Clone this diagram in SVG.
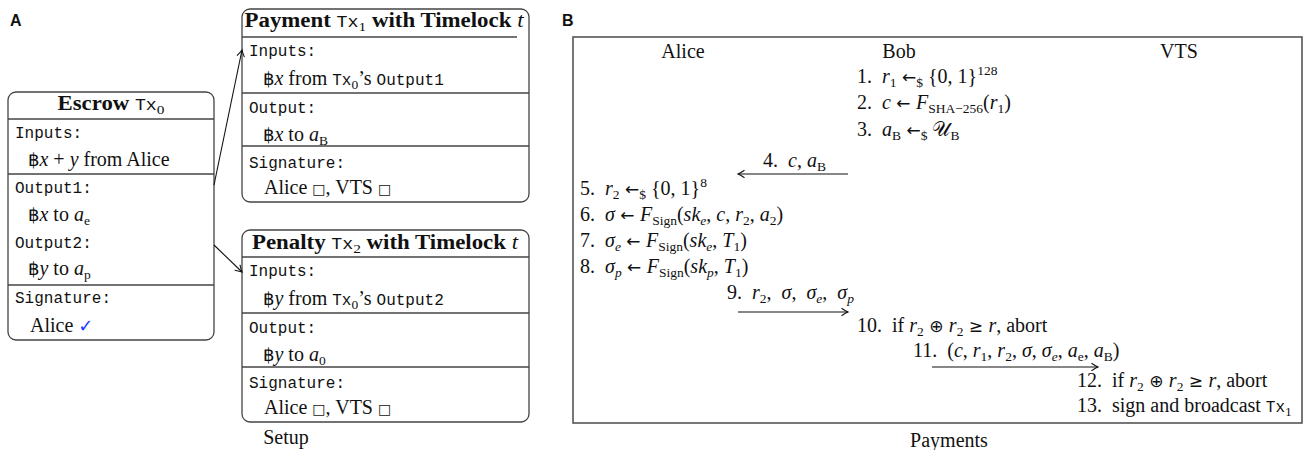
<svg xmlns="http://www.w3.org/2000/svg" width="1307" height="450" viewBox="0 0 1307 450">
<style>
text{font-family:"Liberation Serif","DejaVu Serif",serif;font-size:20px;fill:#111}
.m{font-family:"Liberation Mono","DejaVu Sans Mono",monospace;font-size:16px}
.i{font-style:italic}
.s{font-size:13.5px}
.b{font-weight:bold}
.ar{font-family:"DejaVu Sans","Noto Sans",sans-serif;font-size:17px}
.bt{font-family:"DejaVu Sans","Noto Sans",sans-serif;font-size:18px}
.sq{font-family:"DejaVu Sans","Noto Sans",sans-serif;font-size:14px}
.ck{font-family:"DejaVu Sans","Noto Sans",sans-serif;fill:#1a3cff;font-size:18px}
.lbl{font-family:"Liberation Sans",Arial,sans-serif;font-weight:bold;font-size:16px}
.box{fill:#fff;stroke:#444;stroke-width:1.3}
.div{stroke:#444;stroke-width:1.3}
.frame{fill:none;stroke:#555;stroke-width:1.6}
.arr{stroke:#111;stroke-width:1.1;fill:none;marker-end:url(#ah)}
</style>
<defs>
<marker id="ah" markerUnits="userSpaceOnUse" markerWidth="12" markerHeight="12" viewBox="-8 -6 10 12" refX="0" refY="0" orient="auto">
<path d="M-6.5,-3.8 Q-2,-0.8 0,0 Q-2,0.8 -6.5,3.8" fill="none" stroke="#111" stroke-width="1.1"/>
</marker>
</defs>

<text class="lbl" x="10" y="26">A</text>
<text class="lbl" x="562" y="26">B</text>

<g id="escrow">
<rect class="box" x="8" y="92" width="206" height="248" rx="8"/>
<line class="div" x1="8" y1="119" x2="214" y2="119"/>
<line class="div" x1="8" y1="174" x2="214" y2="174"/>
<line class="div" x1="8" y1="285" x2="214" y2="285"/>
<text x="111" y="110" text-anchor="middle" textLength="107" lengthAdjust="spacingAndGlyphs"><tspan class="b">Escrow </tspan><tspan class="m">Tx</tspan><tspan class="s" dy="4">0</tspan></text>
<text class="m" x="15" y="138">Inputs:</text>
<text x="28" y="166"><tspan class="bt">฿</tspan><tspan class="i">x</tspan>&#160;+&#160;<tspan class="i">y</tspan> from Alice</text>
<text class="m" x="15" y="193">Output1:</text>
<text x="28" y="221"><tspan class="bt">฿</tspan><tspan class="i">x</tspan> to <tspan class="i">a</tspan><tspan class="s" dy="4">e</tspan></text>
<text class="m" x="15" y="248">Output2:</text>
<text x="28" y="275"><tspan class="bt">฿</tspan><tspan class="i">y</tspan> to <tspan class="i">a</tspan><tspan class="s" dy="4">p</tspan></text>
<text class="m" x="15" y="303">Signature:</text>
<text x="30" y="332">Alice <tspan class="ck">✓</tspan></text>
</g>

<g id="payment">
<rect class="box" x="242" y="9" width="287" height="193" rx="8"/>
<line class="div" x1="242" y1="37" x2="517" y2="37"/>
<line class="div" x1="242" y1="93" x2="529" y2="93"/>
<line class="div" x1="242" y1="146" x2="529" y2="146"/>
<text x="384" y="27" text-anchor="middle" textLength="279" lengthAdjust="spacingAndGlyphs"><tspan class="b">Payment </tspan><tspan class="m">Tx</tspan><tspan class="s" dy="4">1</tspan><tspan class="b" dy="-4"> with Timelock </tspan><tspan class="i">t</tspan></text>
<text class="m" x="249" y="56">Inputs:</text>
<text x="263" y="85"><tspan class="bt">฿</tspan><tspan class="i">x</tspan> from <tspan class="m">Tx</tspan><tspan class="s" dy="4">0</tspan><tspan dy="-4">’s </tspan><tspan class="m">Output1</tspan></text>
<text class="m" x="249" y="113">Output:</text>
<text x="263" y="141"><tspan class="bt">฿</tspan><tspan class="i">x</tspan> to <tspan class="i">a</tspan><tspan class="s" dy="4">B</tspan></text>
<text class="m" x="249" y="168">Signature:</text>
<text x="264" y="194">Alice <tspan class="sq">□</tspan>, VTS <tspan class="sq">□</tspan></text>
</g>

<g id="penalty">
<rect class="box" x="242" y="230" width="287" height="192" rx="8"/>
<line class="div" x1="242" y1="257" x2="529" y2="257"/>
<line class="div" x1="242" y1="313" x2="529" y2="313"/>
<line class="div" x1="242" y1="367" x2="529" y2="367"/>
<text x="385" y="249" text-anchor="middle" textLength="266" lengthAdjust="spacingAndGlyphs"><tspan class="b">Penalty </tspan><tspan class="m">Tx</tspan><tspan class="s" dy="4">2</tspan><tspan class="b" dy="-4"> with Timelock </tspan><tspan class="i">t</tspan></text>
<text class="m" x="249" y="276">Inputs:</text>
<text x="263" y="305"><tspan class="bt">฿</tspan><tspan class="i">y</tspan> from <tspan class="m">Tx</tspan><tspan class="s" dy="4">0</tspan><tspan dy="-4">’s </tspan><tspan class="m">Output2</tspan></text>
<text class="m" x="249" y="333">Output:</text>
<text x="263" y="361"><tspan class="bt">฿</tspan><tspan class="i">y</tspan> to <tspan class="i">a</tspan><tspan class="s" dy="4">0</tspan></text>
<text class="m" x="249" y="388">Signature:</text>
<text x="264" y="414">Alice <tspan class="sq">□</tspan>, VTS <tspan class="sq">□</tspan></text>
</g>

<text id="setup" x="286" y="444" text-anchor="middle">Setup</text>

<g id="payments">
<rect class="frame" x="573" y="37" width="729" height="386"/>
<text x="683" y="58" text-anchor="middle">Alice</text>
<text x="899" y="58" text-anchor="middle">Bob</text>
<text x="1179" y="58" text-anchor="middle">VTS</text>

<text x="857" y="83">1.&#160; <tspan class="i">r</tspan><tspan class="s" dy="4">1</tspan><tspan class="ar" dy="-4"> ←</tspan><tspan class="s" dy="4">$</tspan><tspan dy="-4"> {0, 1}</tspan><tspan class="s" dy="-8">128</tspan></text>
<text x="857" y="109">2.&#160; <tspan class="i">c</tspan><tspan class="ar"> ← </tspan><tspan class="i">F</tspan><tspan class="s" dy="4">SHA−256</tspan><tspan dy="-4">(</tspan><tspan class="i">r</tspan><tspan class="s" dy="4">1</tspan><tspan dy="-4">)</tspan></text>
<text x="857" y="136">3.&#160; <tspan class="i">a</tspan><tspan class="s" dy="4">B</tspan><tspan class="ar" dy="-4"> ←</tspan><tspan class="s" dy="4">$</tspan><tspan dy="-4"> 𝒰</tspan><tspan class="s" dy="4">B</tspan></text>
<text x="763" y="167">4.&#160; <tspan class="i">c</tspan>, <tspan class="i">a</tspan><tspan class="s" dy="4">B</tspan></text>

<text x="580" y="195">5.&#160; <tspan class="i">r</tspan><tspan class="s" dy="4">2</tspan><tspan class="ar" dy="-4"> ←</tspan><tspan class="s" dy="4">$</tspan><tspan dy="-4"> {0, 1}</tspan><tspan class="s" dy="-8">8</tspan></text>
<text x="580" y="221">6.&#160; <tspan class="i">σ</tspan><tspan class="ar"> ← </tspan><tspan class="i">F</tspan><tspan class="s" dy="4">Sign</tspan><tspan dy="-4">(</tspan><tspan class="i">sk</tspan><tspan class="s i" dy="4">e</tspan><tspan dy="-4">, </tspan><tspan class="i">c</tspan>, <tspan class="i">r</tspan><tspan class="s" dy="4">2</tspan><tspan dy="-4">, </tspan><tspan class="i">a</tspan><tspan class="s" dy="4">2</tspan><tspan dy="-4">)</tspan></text>
<text x="580" y="247">7.&#160; <tspan class="i">σ</tspan><tspan class="s i" dy="4">e</tspan><tspan class="ar" dy="-4"> ← </tspan><tspan class="i">F</tspan><tspan class="s" dy="4">Sign</tspan><tspan dy="-4">(</tspan><tspan class="i">sk</tspan><tspan class="s i" dy="4">e</tspan><tspan dy="-4">, </tspan><tspan class="i">T</tspan><tspan class="s" dy="4">1</tspan><tspan dy="-4">)</tspan></text>
<text x="580" y="273">8.&#160; <tspan class="i">σ</tspan><tspan class="s i" dy="4">p</tspan><tspan class="ar" dy="-4"> ← </tspan><tspan class="i">F</tspan><tspan class="s" dy="4">Sign</tspan><tspan dy="-4">(</tspan><tspan class="i">sk</tspan><tspan class="s i" dy="4">p</tspan><tspan dy="-4">, </tspan><tspan class="i">T</tspan><tspan class="s" dy="4">1</tspan><tspan dy="-4">)</tspan></text>
<text x="727" y="299">9.&#160; <tspan class="i">r</tspan><tspan class="s" dy="4">2</tspan><tspan dy="-4">,&#160; </tspan><tspan class="i">σ</tspan>,&#160; <tspan class="i">σ</tspan><tspan class="s i" dy="4">e</tspan><tspan dy="-4">,&#160; </tspan><tspan class="i">σ</tspan><tspan class="s i" dy="4">p</tspan></text>
<text x="857" y="332">10.&#160; if <tspan class="i">r</tspan><tspan class="s" dy="4">2</tspan><tspan class="ar" dy="-4"> ⊕ </tspan><tspan class="i">r</tspan><tspan class="s" dy="4">2</tspan><tspan class="ar" dy="-4"> ≥ </tspan><tspan class="i">r</tspan>, abort</text>
<text x="913" y="357">11.&#160; (<tspan class="i">c</tspan>, <tspan class="i">r</tspan><tspan class="s" dy="4">1</tspan><tspan dy="-4">, </tspan><tspan class="i">r</tspan><tspan class="s" dy="4">2</tspan><tspan dy="-4">, </tspan><tspan class="i">σ</tspan>, <tspan class="i">σ</tspan><tspan class="s i" dy="4">e</tspan><tspan dy="-4">, </tspan><tspan class="i">a</tspan><tspan class="s" dy="4">e</tspan><tspan dy="-4">, </tspan><tspan class="i">a</tspan><tspan class="s" dy="4">B</tspan><tspan dy="-4">)</tspan></text>
<text x="1077" y="387">12.&#160; if <tspan class="i">r</tspan><tspan class="s" dy="4">2</tspan><tspan class="ar" dy="-4"> ⊕ </tspan><tspan class="i">r</tspan><tspan class="s" dy="4">2</tspan><tspan class="ar" dy="-4"> ≥ </tspan><tspan class="i">r</tspan>, abort</text>
<text x="1077" y="412">13.&#160; sign and broadcast <tspan class="m">Tx</tspan><tspan class="s" dy="4">1</tspan></text>
</g>

<text id="payments-caption" x="949" y="447" text-anchor="middle">Payments</text>

<g id="connectors">
<line class="arr" x1="214" y1="185" x2="242" y2="50"/>
<line class="arr" x1="214" y1="245" x2="242" y2="272"/>
<line class="arr" x1="848" y1="174" x2="738" y2="174"/>
<line class="arr" x1="738" y1="312" x2="848" y2="312"/>
<line class="arr" x1="932" y1="367" x2="1098" y2="367"/>
</g>
</svg>
